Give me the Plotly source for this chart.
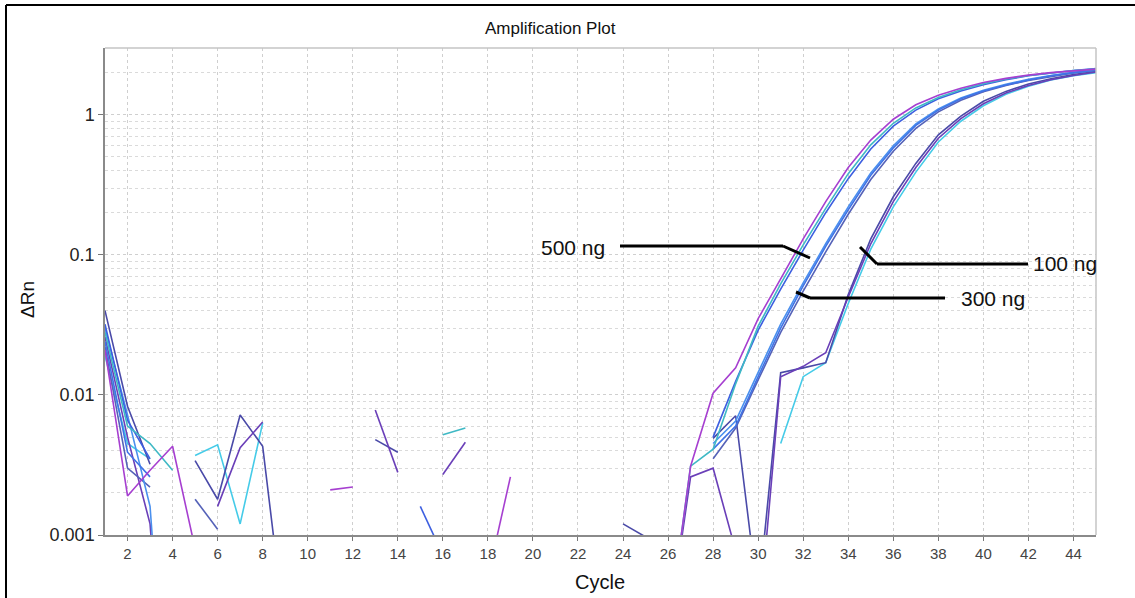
import plotly.graph_objects as go

N = None

# cycle numbers (x axis)
cycles = list(range(1, 46))

# delta Rn per well (None = no point / negative)
well_500_a = [0.021, 0.0019, 0.0029, 0.0043, 0.0008,
              N, N, N, N, N,
              0.0021, 0.0022, N, N, N,
              N, N, 0.0005, 0.0026, N,
              N, N, N, N, N,
              0.0002, 0.0031, 0.0103, 0.0156, 0.035,
              0.068, 0.13, 0.24, 0.42, 0.66,
              0.93, 1.18, 1.38, 1.55, 1.70,
              1.82, 1.92, 2.0, 2.07, 2.12]
well_500_b = [0.028, 0.006, 0.0045, 0.0029, N,
              N, N, N, N, N,
              N, N, N, N, N,
              0.0052, 0.0058, N, N, N,
              N, N, N, N, N,
              0.0002, 0.0031, 0.0041, 0.012, 0.031,
              0.062, 0.118, 0.215, 0.38, 0.61,
              0.87, 1.12, 1.33, 1.51, 1.67,
              1.8, 1.91, 2.0, 2.07, 2.12]
well_500_c = [0.032, 0.0066, 0.0035, N, N,
              N, N, N, N, N,
              N, N, N, N, 0.0016,
              0.00072, N, N, N, N,
              N, N, N, N, N,
              N, N, 0.005, 0.0125, 0.029,
              0.057, 0.108, 0.2, 0.35, 0.57,
              0.83, 1.08, 1.3, 1.48, 1.64,
              1.78, 1.9, 1.99, 2.07, 2.14]
well_300_a = [0.024, 0.0039, 0.0026, N, N,
              N, N, N, N, N,
              N, N, N, N, N,
              N, N, N, N, N,
              N, N, N, N, N,
              N, N, 0.0041, 0.006, 0.0135,
              0.03, 0.06, 0.115, 0.21, 0.37,
              0.58, 0.84, 1.08, 1.3, 1.48,
              1.63, 1.77, 1.9, 2.0, 2.08]
well_300_b = [0.03, 0.0072, 0.0016, 0.00001, N,
              N, N, N, N, N,
              N, N, N, N, N,
              N, N, N, N, N,
              N, N, N, N, N,
              N, N, 0.0045, 0.0065, 0.0145,
              0.032, 0.063, 0.12, 0.22, 0.385,
              0.6, 0.86, 1.1, 1.32, 1.5,
              1.65, 1.79, 1.91, 2.01, 2.1]
well_300_c = [0.022, 0.003, 0.0022, N, 0.0018,
              0.0011, N, N, N, N,
              N, N, N, N, N,
              N, N, N, N, N,
              N, N, N, N, N,
              N, N, 0.0035, 0.0058, 0.0128,
              0.028, 0.055, 0.105, 0.195, 0.345,
              0.55, 0.8, 1.05, 1.27, 1.46,
              1.62, 1.76, 1.88, 1.99, 2.07]
well_100_a = [0.026, 0.005, 0.0012, 0.00001, N,
              0.0016, 0.0042, 0.0064, N, N,
              N, N, 0.0078, 0.0028, N,
              0.0027, 0.0046, N, N, N,
              N, N, N, N, N,
              0.0002, 0.0026, 0.003, 0.0008, 0.0002,
              0.0135, 0.016, 0.02, 0.05, 0.12,
              0.24, 0.42, 0.68, 0.94, 1.2,
              1.43, 1.62, 1.78, 1.91, 2.02]
well_100_b = [0.040, 0.0083, 0.0032, N, 0.0034,
              0.0018, 0.0072, 0.0043, 0.0002, N,
              N, N, 0.0048, 0.0039, N,
              N, N, N, N, N,
              N, N, N, 0.0012, 0.00097,
              N, N, 0.0049, 0.0071, 0.00035,
              0.0144, 0.0156, 0.017, 0.052, 0.13,
              0.26, 0.45, 0.72, 0.98, 1.25,
              1.47, 1.66, 1.81, 1.94, 2.04]
well_100_c = [0.019, 0.0045, 0.0035, N, 0.0037,
              0.0044, 0.0012, 0.0063, N, N,
              N, N, N, N, N,
              N, N, N, N, N,
              N, N, N, N, N,
              N, N, N, N, N,
              0.0045, 0.0135, 0.017, 0.045, 0.11,
              0.22, 0.39, 0.64, 0.9, 1.16,
              1.4, 1.6, 1.77, 1.9, 2.0]

y_tickvals = [0.001, 0.01, 0.1, 1]
y_ticktext = ["0.001", "0.01", "0.1", "1"]
x_tickvals = list(range(2, 45, 2))

wells = [
    (well_100_c, "#45cbe8"),
    (well_100_b, "#4a4aa8"),
    (well_100_a, "#6a3fb8"),
    (well_300_c, "#5562b8"),
    (well_300_b, "#4a90ee"),
    (well_300_a, "#3f73e6"),
    (well_500_c, "#3d5fe0"),
    (well_500_b, "#3fb9c5"),
    (well_500_a, "#a63fd0"),
]

# plot area in pixels
W, H = 1135, 598
L, R, T, B = 105, 39, 48, 63
PW, PH = W - L - R, H - T - B


def fx(px):
    return (px - L) / PW


def fy(py):
    return (H - B - py) / PH


fig = go.Figure()
for vals, col in wells:
    fig.add_trace(go.Scatter(x=cycles, y=vals, mode="lines",
                             line=dict(color=col, width=1.6),
                             showlegend=False, hoverinfo="skip"))

minor_vals = []
for d in [0.001, 0.01, 0.1, 1]:
    for k in range(2, 10):
        if d * k <= 3:
            minor_vals.append(d * k)

font = "Arial, Liberation Sans"
grid = "#cfcfcf"
fig.update_xaxes(range=[1, 45], tickvals=x_tickvals, ticks="outside", ticklen=4,
                 tickcolor="#777", showgrid=True, gridcolor=grid, griddash="3px,3px",
                 gridwidth=1, showline=True, linecolor="#8a8a8a", linewidth=1.5,
                 mirror=False, zeroline=False,
                 tickfont=dict(family=font, size=15, color="#444"))
fig.update_yaxes(type="log", range=[-3, 0.477], tickvals=y_tickvals, ticktext=y_ticktext,
                 ticks="outside", ticklen=5, tickcolor="#777",
                 showgrid=True, gridcolor=grid, griddash="3px,3px", gridwidth=1,
                 minor=dict(tickvals=minor_vals, showgrid=True, gridcolor="#dadada",
                            griddash="3px,3px", ticks=""),
                 showline=True, linecolor="#8a8a8a", linewidth=1.5, zeroline=False,
                 tickfont=dict(family=font, size=18, color="#222"))

shapes = [
    # light border top/right of plot
    dict(type="line", xref="paper", yref="paper", x0=0, x1=1, y0=1, y1=1,
         line=dict(color="#c4c4c4", width=1.5)),
    dict(type="line", xref="paper", yref="paper", x0=1, x1=1, y0=0, y1=1,
         line=dict(color="#c4c4c4", width=1.5)),
    # outer black frame
    dict(type="line", xref="paper", yref="paper", x0=fx(6), x1=fx(6), y0=fy(5), y1=fy(600),
         line=dict(color="black", width=2)),
    dict(type="line", xref="paper", yref="paper", x0=fx(6), x1=fx(1140), y0=fy(5), y1=fy(5),
         line=dict(color="black", width=2)),
]

# leader lines for the labels
leaders = [
    [(620, 246), (783, 246), (810, 258)],
    [(1028, 264), (877, 264), (860, 247)],
    [(945, 298), (810, 298), (796, 292)],
]
for pts in leaders:
    for (x0, y0), (x1, y1) in zip(pts[:-1], pts[1:]):
        shapes.append(dict(type="line", xref="paper", yref="paper",
                           x0=fx(x0), y0=fy(y0), x1=fx(x1), y1=fy(y1),
                           line=dict(color="black", width=3)))

annos = [
    dict(text="Amplification Plot", x=fx(550), y=fy(28), size=17, xa="center"),
    dict(text="Cycle", x=fx(600), y=fy(582), size=20, xa="center"),
    dict(text="500 ng", x=fx(607), y=fy(247), size=21, xa="right"),
    dict(text="100 ng", x=fx(1031), y=fy(263), size=21, xa="left"),
    dict(text="300 ng", x=fx(959), y=fy(298), size=21, xa="left"),
]
annotations = [dict(text=a["text"], x=a["x"], y=a["y"], xref="paper", yref="paper",
                    xanchor=a["xa"], yanchor="middle", showarrow=False,
                    font=dict(family=font, size=a["size"], color="#111"))
               for a in annos]
annotations.append(dict(text="ΔRn", x=fx(27), y=fy(300), xref="paper", yref="paper",
                        textangle=-90, showarrow=False, xanchor="center", yanchor="middle",
                        font=dict(family=font, size=19, color="#111")))

fig.update_layout(width=W, height=H, margin=dict(l=L, r=R, t=T, b=B),
                  paper_bgcolor="white", plot_bgcolor="white",
                  shapes=shapes, annotations=annotations, hovermode=False)

# page body has a default 8px margin; drop it so the figure sits at 0,0
fig.write_html("out.html", config={"displayModeBar": False},
               post_script="document.body.style.margin='0';")
